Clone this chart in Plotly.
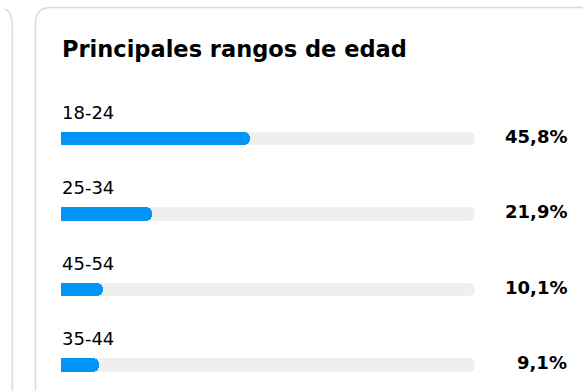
import plotly.graph_objects as go

# Data
title_text = "Principales rangos de edad"
categories = ["18-24", "25-34", "45-54", "35-44"]
values = [45.8, 21.9, 10.1, 9.1]
value_labels = ["45,8%", "21,9%", "10,1%", "9,1%"]
track_max = 100

W, H = 583, 391
FONT = "'DejaVu Sans', sans-serif"
BLUE = "#0095F6"
TRACK = "#EFEFEF"
BORDER = "#DBDBDB"

# pixel geometry helpers
row0_px = 138.5
row_gap = 75.5
bar_px = 13.5
x_left_px, x_right_px = 61, 474.5

y_top = -row0_px / row_gap
y_bot = (H - row0_px) / row_gap
pos = list(range(len(categories)))

fig = go.Figure()
fig.add_trace(go.Bar(
    x=[track_max] * len(categories), y=pos, orientation="h",
    marker=dict(color=TRACK, cornerradius=6.5, line=dict(width=0)),
    width=bar_px / row_gap, hoverinfo="skip", showlegend=False,
    xaxis="x", yaxis="y",
))
fig.add_trace(go.Bar(
    x=values, y=pos, orientation="h",
    marker=dict(color=BLUE, cornerradius=6.5, line=dict(width=0)),
    width=bar_px / row_gap, hoverinfo="skip", showlegend=False,
    xaxis="x2", yaxis="y2",
))

annotations = []
for i, (c, vl) in enumerate(zip(categories, value_labels)):
    annotations.append(dict(
        x=0, y=i - 26.5 / row_gap, xref="x", yref="y", text=c, showarrow=False,
        xanchor="left", yanchor="middle", xshift=-1,
        font=dict(family=FONT, size=18, color="#000000"),
    ))
    annotations.append(dict(
        x=569 / W, y=i - 2.5 / row_gap, xref="paper", yref="y", text=vl, showarrow=False,
        xanchor="right", yanchor="middle",
        font=dict(family=FONT, size=18, color="#000000", weight="bold"),
    ))
annotations.append(dict(
    x=60 / W, y=1 - 49 / H, xref="paper", yref="paper", text=title_text, showarrow=False,
    xanchor="left", yanchor="middle",
    font=dict(family=FONT, size=22.5, color="#000000", weight="bold"),
))

def px(x, y):
    return f"{x / W:.5f},{1 - y / H:.5f}"

card_path = f"M {px(35.5, H + 5)} L {px(35.5, 23)} Q {px(35.5, 7.5)} {px(51, 7.5)} L {px(W + 5, 7.5)}"
left_path = f"M {px(12.3, H + 5)} L {px(12.3, 26)} Q {px(12.3, 12)} {px(5, 9)}"

shapes = [
    dict(type="path", xref="paper", yref="paper", path=card_path,
         line=dict(color=BORDER, width=1.5), layer="below"),
    dict(type="path", xref="paper", yref="paper", path=left_path,
         line=dict(color=BORDER, width=1.5), layer="below"),
]

xdom = [x_left_px / W, x_right_px / W]
fig.update_layout(
    width=W, height=H, margin=dict(l=0, r=0, t=0, b=0),
    paper_bgcolor="white", plot_bgcolor="rgba(0,0,0,0)",
    barmode="overlay", bargap=0,
    xaxis=dict(domain=xdom, range=[0, track_max], visible=False, fixedrange=True),
    yaxis=dict(domain=[0, 1], range=[y_bot, y_top], visible=False, fixedrange=True),
    xaxis2=dict(domain=xdom, range=[0, track_max], visible=False, fixedrange=True,
                overlaying="x", anchor="y2"),
    yaxis2=dict(domain=[0, 1], range=[y_bot, y_top], visible=False, fixedrange=True,
                overlaying="y", anchor="x2"),
    annotations=annotations, shapes=shapes, showlegend=False,
)

fig.write_html("out.html")
